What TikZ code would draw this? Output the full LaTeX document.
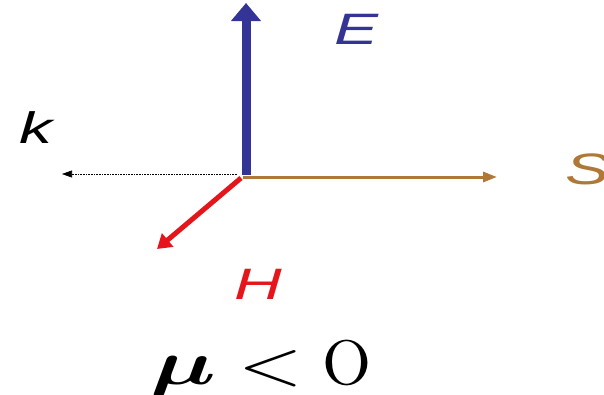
\documentclass[tikz,border=0pt]{standalone}
\usepackage{fontspec}
\newfontfamily\labfont{Liberation Sans}
\usetikzlibrary{arrows.meta}
\definecolor{eblue}{RGB}{52,52,150}
\definecolor{sbrown}{RGB}{175,120,55}
\definecolor{hred}{RGB}{228,22,28}
\tikzset{
  lab/.style={font=\labfont\itshape\fontsize{44}{44}\selectfont, inner sep=0pt},
  mth/.style={inner sep=0pt, anchor=base},
  earrow/.style={draw=eblue, line width=9pt, -{Triangle[length=18pt,width=29pt]}, fill=eblue},
  sarrow/.style={draw=sbrown, line width=3pt, -{Triangle[length=14pt,width=10pt]}},
  harrow/.style={draw=hred, line width=5pt, -{Triangle[length=14pt,width=17pt]}},
  karrow/.style={draw=black, densely dotted, line width=0.6pt, -{Triangle[length=10pt,width=7pt]}}
}
\begin{document}
\begin{tikzpicture}[x=1pt,y=-1pt]
\useasboundingbox (0,0) rectangle (604,394);
\coordinate (o) at (246,175);
\coordinate (ko) at (237,174);
\coordinate (so) at (243,177);
\coordinate (ho) at (241,178);
\coordinate (etip) at (246,3);
\coordinate (ktip) at (62,174);
\coordinate (stip) at (497,177);
\coordinate (htip) at (157,249);
\draw[karrow] (ko) -- (ktip);
\draw[sarrow] (so) -- (stip);
\draw[earrow] (o) -- (etip);
\draw[harrow] (ho) -- (htip);
\node[lab, text=eblue] (elab) at (357,29) {\scalebox{1.5}[1]{E}};
\node[lab, text=black] (klab) at (36,128) {\scalebox{1.5}[1]{k}};
\node[lab, text=sbrown, anchor=west] (slab) at (565,169) {\scalebox{1.5}[1]{S}};
\node[lab, text=hred] (hlab) at (258,284) {\scalebox{1.5}[1]{H}};
\node[mth] (mu) at (183,384) {\scalebox{9.3}[6.3]{\boldmath$\mu$}};
\node[mth] (lt) at (271,384) {\scalebox{8.3}[6.3]{$<$}};
\node[mth] (zero) at (347,384) {\scalebox{6.3}{O}};
\end{tikzpicture}
\end{document}
